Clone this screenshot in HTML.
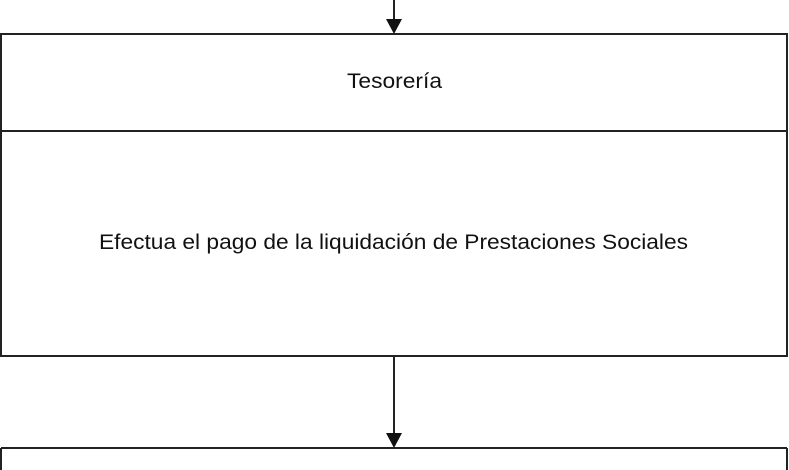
<!DOCTYPE html>
<html><head><style>body{margin:0;background:#fff}svg{display:block}</style></head>
<body>
<svg width="789" height="470" xmlns="http://www.w3.org/2000/svg">
<rect width="789" height="470" fill="#fff"/>
<g stroke="#222" stroke-width="2" fill="none">
<line x1="394" y1="0" x2="394" y2="22"/>
<rect x="1" y="34" width="786" height="322"/>
<line x1="1" y1="131" x2="787" y2="131"/>
<line x1="394" y1="356" x2="394" y2="436"/>
<line x1="1" y1="448" x2="787" y2="448"/>
<line x1="1" y1="448" x2="1" y2="470"/>
<line x1="787" y1="448" x2="787" y2="470"/>
</g>
<polygon points="386,19 402,19 394,34" fill="#111"/>
<polygon points="386,433 402,433 394,448" fill="#111"/>
<g font-family="Liberation Sans, Arial, sans-serif" font-size="21" fill="#111">
<text x="347" y="88" textLength="95" lengthAdjust="spacingAndGlyphs">Tesorería</text>
<text x="99" y="249" textLength="589" lengthAdjust="spacingAndGlyphs">Efectua el pago de la liquidación de Prestaciones Sociales</text>
</g>
</svg>
</body></html>
